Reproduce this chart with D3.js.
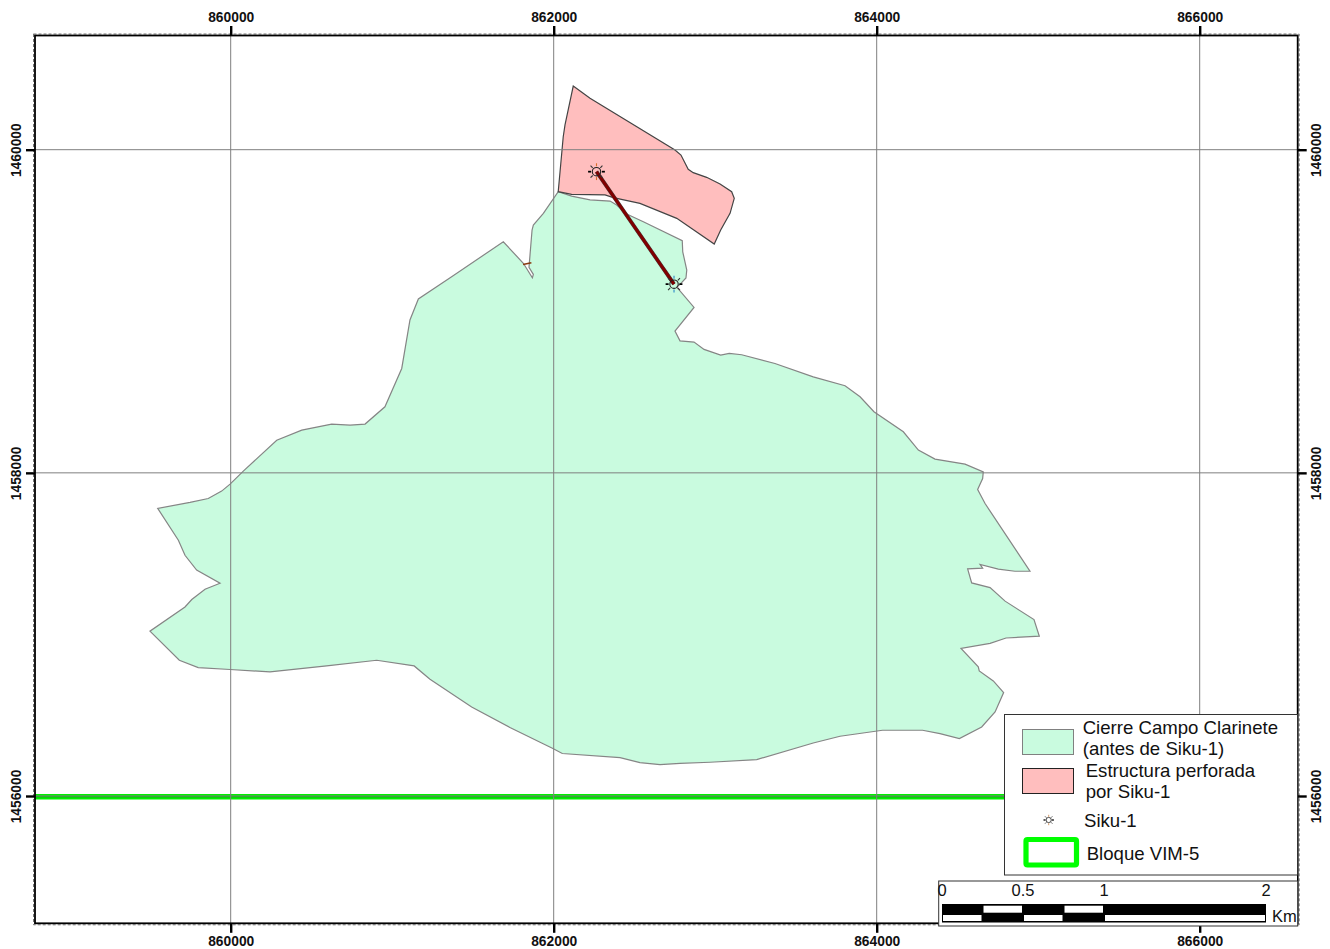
<!DOCTYPE html>
<html>
<head>
<meta charset="utf-8">
<script src="https://cdn.jsdelivr.net/npm/d3@7"></script>
<style>
html, body { margin: 0; padding: 0; background: #fff; }
svg { display: block; }
text { font-family: "Liberation Sans", Arial, sans-serif; }
</style>
</head>
<body>
<div id="graphic"></div>
<script>
// grid ticks, map coordinates (m)
var eastTicks = [860000, 862000, 864000, 866000];
var northTicks = [1456000, 1458000, 1460000];

// Cierre Campo Clarinete outline [easting, northing]
var closure = [
  [862028,1459740],[862111,1459713],[862225,1459689],[862349,1459682],[862390,1459658],
  [862452,1459602],[862555,1459554],[862796,1459437],[862799,1459368],[862824,1459255],
  [862819,1459206],[862782,1459167],[862762,1459150],[862869,1459024],[862751,1458877],
  [862782,1458817],[862869,1458809],[862931,1458764],[863034,1458729],[863087,1458739],
  [863164,1458731],[863370,1458677],[863607,1458594],[863804,1458539],[863897,1458471],
  [863983,1458378],[864165,1458254],[864258,1458141],[864361,1458085],[864547,1458054],
  [864660,1458006],[864656,1457965],[864625,1457897],[864671,1457810],[864949,1457391],
  [864856,1457391],[864753,1457404],[864640,1457433],[864656,1457410],[864563,1457406],
  [864588,1457319],[864702,1457290],[864795,1457206],[864974,1457092],[865007,1456989],
  [864801,1456978],[864702,1456945],[864522,1456913],[864629,1456799],[864635,1456774],
  [864722,1456712],[864786,1456640],[864733,1456520],[864650,1456427],[864512,1456355],
  [864392,1456386],[864284,1456407],[864036,1456407],[863773,1456370],[863607,1456328],
  [863257,1456225],[862968,1456209],[862782,1456202],[862658,1456194],[862534,1456207],
  [862411,1456238],[862053,1456263],[861998,1456293],[861729,1456424],[861492,1456551],
  [861234,1456723],[861136,1456805],[860904,1456840],[860594,1456805],[860243,1456768],
  [859996,1456783],[859799,1456795],[859682,1456840],[859500,1457020],[859717,1457170],
  [859759,1457216],[859841,1457280],[859934,1457317],[859789,1457398],[859717,1457490],
  [859676,1457583],[859548,1457780],[859748,1457817],[859861,1457841],[859944,1457887],
  [859996,1457930],[860078,1458011],[860285,1458202],[860440,1458264],[860625,1458302],
  [860739,1458295],[860832,1458302],[860955,1458409],[861059,1458646],[861110,1458946],
  [861162,1459076],[861368,1459214],[861688,1459430],[861812,1459297],[861868,1459207],
  [861874,1459228],[861847,1459272],[861866,1459503],[861874,1459534],[861936,1459606]
];

// Estructura perforada por Siku-1
var structure = [
  [862121,1460394],[862225,1460318],[862751,1459998],[862788,1459967],[862833,1459879],
  [862864,1459858],[862947,1459829],[863030,1459788],[863102,1459740],[863118,1459699],[863092,1459606],
  [863034,1459503],[862994,1459416],[862762,1459575],[862534,1459668],[862369,1459703],
  [862318,1459720],[862111,1459724],[862028,1459740],[862059,1460080],[862070,1460153]
];

var wellTrack = [[862265,1459864],[862745,1459168]];
var smallTrack = [[861810,1459290],[861862,1459300]];
var blockEdge = [[858000,1455995],[868000,1455995]];

var legendClosure = ["Cierre Campo Clarinete", "(antes de Siku-1)"];
var legendStructure = ["Estructura perforada", "por Siku-1"];
var legendWell = "Siku-1";
var legendBlock = "Bloque VIM-5";

var scaleLabels = [0, 0.5, 1, 2];
var scaleTop = [[0.25,0.5],[0.75,1]];
var scaleBottom = [[0,0.25],[0.5,0.75],[1,2]];

var w = 1330, h = 949;
var left = 35, right = 1297.7, top_ = 35.5, bottom = 923.3;

var svg = d3.select("#graphic").append("svg").attr("width", w).attr("height", h);

var xScale = d3.scaleLinear().domain([860000, 866000]).range([230.7, 1199.7]);
var yScale = d3.scaleLinear().domain([1456000, 1460000]).range([796, 149.7]);
var line = d3.line().x(function(d){ return xScale(d[0]); }).y(function(d){ return yScale(d[1]); });

svg.append("clipPath").attr("id", "frame").append("rect")
    .attr("x", left).attr("y", top_).attr("width", right - left).attr("height", bottom - top_);

var map = svg.append("g").attr("clip-path", "url(#frame)");

map.append("path").attr("d", line(closure) + "Z")
    .attr("fill", "#c9fbdf").attr("stroke", "#858585").attr("stroke-width", 1.2);
map.append("path").attr("d", line(structure) + "Z")
    .attr("fill", "#ffbebe").attr("stroke", "#444").attr("stroke-width", 1.2);

// block line, lime with a darker core
map.append("path").attr("d", line(blockEdge)).attr("stroke", "#00f000").attr("stroke-width", 5.4).attr("fill", "none");
map.append("path").attr("d", line(blockEdge)).attr("stroke", "#12a012").attr("stroke-width", 1).attr("fill", "none");

// grid
map.selectAll(".gx").data(eastTicks).enter().append("line")
    .attr("x1", function(d){ return xScale(d); }).attr("x2", function(d){ return xScale(d); })
    .attr("y1", top_).attr("y2", bottom)
    .attr("stroke", "#7f7f7f").attr("stroke-width", 1);
map.selectAll(".gy").data(northTicks).enter().append("line")
    .attr("y1", function(d){ return yScale(d); }).attr("y2", function(d){ return yScale(d); })
    .attr("x1", left).attr("x2", right)
    .attr("stroke", "#7f7f7f").attr("stroke-width", 1);

// well track
map.append("path").attr("d", line(wellTrack)).attr("stroke", "#444").attr("stroke-width", 3.8).attr("fill", "none");
map.append("path").attr("d", line(wellTrack)).attr("stroke", "#800000").attr("stroke-width", 3).attr("fill", "none");
map.append("path").attr("d", line(smallTrack)).attr("stroke", "#8a3a10").attr("stroke-width", 1.5).attr("fill", "none");

function sun(g, cx, cy, r, r1, r2, tint, sw) {
    g.append("circle").attr("cx", cx).attr("cy", cy).attr("r", r)
        .attr("fill", "none").attr("stroke", "#222").attr("stroke-width", sw);
    d3.range(8).forEach(function(i){
        var a = i * Math.PI / 4;
        var horiz = i % 4 == 0;
        g.append("line")
            .attr("x1", cx + r1 * Math.cos(a)).attr("y1", cy + r1 * Math.sin(a))
            .attr("x2", cx + r2 * Math.cos(a)).attr("y2", cy + r2 * Math.sin(a))
            .attr("stroke", horiz ? "#000" : (i % 2 == 0 ? tint : "#333"))
            .attr("stroke-width", horiz ? 1.6 * sw : sw);
    });
}
sun(svg.append("g"), xScale(wellTrack[0][0]), yScale(wellTrack[0][1]), 4.2, 5.4, 8.4, "#d8702a", 1.1);
sun(svg.append("g"), xScale(wellTrack[1][0]), yScale(wellTrack[1][1]), 4.2, 5.4, 8.4, "#2a88c8", 1.1);

// frame
svg.append("rect").attr("x", left - 1.5).attr("y", top_ - 1.5)
    .attr("width", right - left + 3).attr("height", bottom - top_ + 3)
    .attr("fill", "none").attr("stroke", "#777").attr("stroke-width", 1).attr("stroke-dasharray", "3,2");
svg.append("rect").attr("x", left).attr("y", top_)
    .attr("width", right - left).attr("height", bottom - top_)
    .attr("fill", "none").attr("stroke", "#000").attr("stroke-width", 1.8);

// axes
function styleAxis(g) {
    g.select(".domain").remove();
    g.selectAll("line").attr("stroke", "#000").attr("stroke-width", 2.4);
    g.selectAll("text").attr("font-size", 13.8).attr("font-weight", "bold").attr("fill", "#111")
        .attr("font-family", "'Liberation Sans', Arial, sans-serif");
}
var fmt = d3.format("d");
svg.append("g").attr("transform", "translate(0," + top_ + ")")
    .call(d3.axisTop(xScale).tickValues(eastTicks).tickFormat(fmt).tickSize(9.5).tickPadding(4))
    .call(styleAxis);
svg.append("g").attr("transform", "translate(0," + bottom + ")")
    .call(d3.axisBottom(xScale).tickValues(eastTicks).tickFormat(fmt).tickSize(9.5).tickPadding(3.4))
    .call(styleAxis);
svg.append("g").attr("transform", "translate(" + left + ",0)")
    .call(d3.axisLeft(yScale).tickValues(northTicks).tickFormat(fmt).tickSize(9))
    .call(styleAxis)
    .selectAll("text").attr("x", null).attr("dy", null).attr("text-anchor", "middle")
    .attr("transform", "translate(-14,0) rotate(-90)");
svg.append("g").attr("transform", "translate(" + right + ",0)")
    .call(d3.axisRight(yScale).tickValues(northTicks).tickFormat(fmt).tickSize(9))
    .call(styleAxis)
    .selectAll("text").attr("x", null).attr("dy", null).attr("text-anchor", "middle")
    .attr("transform", "translate(23.3,0) rotate(-90)");

// legend
var lg = svg.append("g");
// grid stops at the boxes, no line shows in the gap between them
lg.append("rect").attr("x", 1005).attr("y", 875).attr("width", 292).attr("height", 6).attr("fill", "#fff");
lg.append("rect").attr("x", 1004.5).attr("y", 714.5).attr("width", 293).attr("height", 160.5)
    .attr("fill", "#fff").attr("stroke", "#333").attr("stroke-width", 1);
lg.append("rect").attr("x", 1022.5).attr("y", 729.5).attr("width", 51).attr("height", 25)
    .attr("fill", "#c9fbdf").attr("stroke", "#808080").attr("stroke-width", 1);
lg.append("rect").attr("x", 1022.5).attr("y", 768.5).attr("width", 51).attr("height", 25)
    .attr("fill", "#ffbebe").attr("stroke", "#222").attr("stroke-width", 1);
sun(lg.append("g"), 1048.7, 820, 2.6, 3.2, 5.2, "#c88040", 0.8);
lg.append("rect").attr("x", 1026).attr("y", 839.5).attr("width", 50.5).attr("height", 25.5).attr("rx", 1.5)
    .attr("fill", "#fff").attr("stroke", "#00ff00").attr("stroke-width", 5.2);

function legendText(txt, x, y) {
    lg.append("text").attr("x", x).attr("y", y).attr("font-size", 18.6).attr("fill", "#111").text(txt);
}
legendText(legendClosure[0], 1082.7, 734.3);
legendText(legendClosure[1], 1082.7, 755.3);
legendText(legendStructure[0], 1085.7, 777.3);
legendText(legendStructure[1], 1085.7, 798.3);
legendText(legendWell, 1084, 827.3);
legendText(legendBlock, 1086.7, 859.7);

// scale bar
var sb = svg.append("g");
var kmScale = d3.scaleLinear().domain([0, 2]).range([942, 1266]);
sb.append("rect").attr("x", 938.7).attr("y", 881).attr("width", 359).attr("height", 45)
    .attr("fill", "#fff").attr("stroke", "#333").attr("stroke-width", 1);
sb.append("rect").attr("x", kmScale(0)).attr("y", 904).attr("width", kmScale(2) - kmScale(0)).attr("height", 18.5).attr("fill", "#000");
function bars(rows, y, hh) {
    sb.selectAll(null).data(rows).enter().append("rect")
        .attr("x", function(d){ return kmScale(d[0]) + 1; })
        .attr("width", function(d){ return kmScale(d[1]) - kmScale(d[0]) - 2; })
        .attr("y", y).attr("height", hh)
        .attr("fill", "#fff");
}
bars(scaleTop, 905.7, 7);
bars(scaleBottom, 915, 6);
sb.selectAll(null).data(scaleLabels).enter().append("text")
    .attr("x", function(d){ return kmScale(d); }).attr("y", 895.7)
    .attr("text-anchor", "middle").attr("font-size", 16.5).attr("fill", "#111")
    .text(function(d){ return d; });
sb.append("text").attr("x", 1272).attr("y", 921.7).attr("font-size", 16.5).attr("fill", "#111").text("Km");
</script>
</body>
</html>
